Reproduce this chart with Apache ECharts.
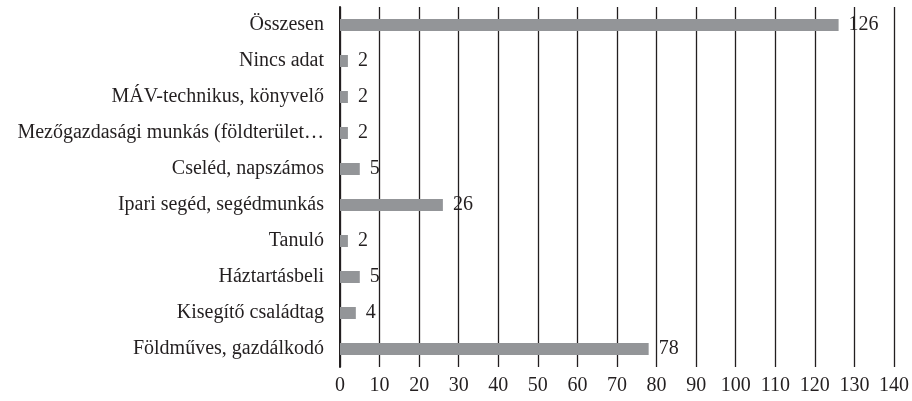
<!DOCTYPE html>
<html><head><meta charset="utf-8">
<script src="https://cdn.jsdelivr.net/npm/echarts@6/dist/echarts.min.js"></script>
<style>html,body{margin:0;padding:0;background:#fff}#c{width:912px;height:401px}</style>
</head><body><div id="c"></div>
<script>
const categories = ["Földműves, gazdálkodó","Kisegítő családtag","Háztartásbeli","Tanuló","Ipari segéd, segédmunkás","Cseléd, napszámos","Mezőgazdasági munkás (földterület…","MÁV-technikus, könyvelő","Nincs adat","Összesen"];
const values = [78,4,5,2,26,5,2,2,2,126];
const xTicks = {min:0,max:140,interval:10};
const font = "'Liberation Serif', 'DejaVu Serif', serif";
const chart = echarts.init(document.getElementById('c'), null, {renderer:'canvas'});
chart.setOption({
  animation:false,
  grid:{left:340,right:18,top:7,bottom:34,containLabel:false},
  xAxis:{type:'value',min:xTicks.min,max:xTicks.max,interval:xTicks.interval,
    axisLine:{show:false},axisTick:{show:false},
    axisLabel:{color:'#231f20',fontFamily:font,fontSize:20,margin:9},
    splitLine:{show:true,lineStyle:{color:'#231f20',width:1.3}}},
  yAxis:{type:'category',data:categories,
    axisLine:{show:true,lineStyle:{color:'#231f20',width:2}},axisTick:{show:false},
    axisLabel:{color:'#231f20',fontFamily:font,fontSize:20,margin:16}},
  series:[{type:'bar',data:values,barWidth:12,itemStyle:{color:'#939598'},
    label:{show:true,position:'right',distance:10,color:'#231f20',fontFamily:font,fontSize:20}}]
});
</script></body></html>
